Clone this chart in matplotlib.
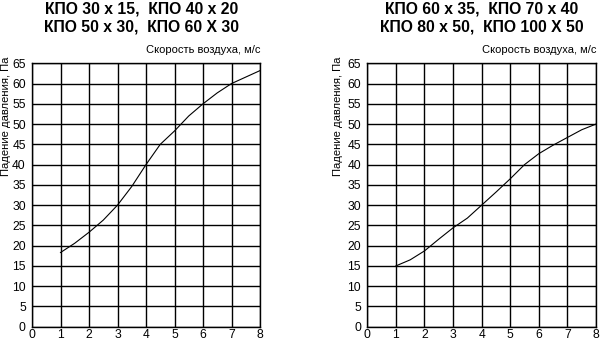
import matplotlib
matplotlib.use("Agg")
import matplotlib.pyplot as plt

plt.rcParams['font.family'] = ['Liberation Sans', 'DejaVu Sans']

speed = [1, 1.5, 2, 2.5, 3, 3.5, 4, 4.5, 5, 5.5, 6, 6.5, 7, 7.5, 8]
drop_left = [18.3, 20.6, 23.3, 26.3, 30, 34.6, 40, 45, 48.3, 52, 55, 57.7, 60, 61.6, 63.2]
drop_right = [15, 16.5, 18.7, 21.6, 24.4, 26.8, 30, 33.2, 36.5, 40, 42.7, 44.8, 46.7, 48.6, 50]

title_left = "КПО 30 х 15,  КПО 40 х 20\nКПО 50 х 30,  КПО 60 Х 30"
title_right = "КПО 60 х 35,  КПО 70 х 40\nКПО 80 х 50,  КПО 100 Х 50"
xlabel = "Скорость воздуха, м/с"
ylabel = "Падение давления, Па"
xticks = list(range(0, 9))
yticks = list(range(0, 66, 5))

W, H = 600, 343
fig = plt.figure(figsize=(6.0, 3.43), dpi=100)

def px(x0, y0, x1, y1):
    return [x0 / W, 1 - y1 / H, (x1 - x0) / W, (y1 - y0) / H]

panels = [
    (px(32, 63.3, 260, 326.7), drop_left, title_left, 142, 6.5),
    (px(367.3, 63.3, 596, 326.7), drop_right, title_right, 482, 338),
]

for rect, ys, title, tx, ylx in panels:
    ax = fig.add_axes(rect)
    ax.plot(speed, ys, color='black', lw=0.8)
    ax.set_xlim(0, 8)
    ax.set_ylim(0, 65)
    ax.set_xticks(xticks)
    ax.set_yticks(yticks)
    ax.grid(True, color='black', lw=1.0)
    ax.tick_params(axis='y', length=0, labelsize=8.7, pad=4.5)
    ax.tick_params(axis='x', length=0, labelsize=8.7, pad=2.0)
    for s in ax.spines.values():
        s.set_color('black')
        s.set_linewidth(1.0)
    ax.text(1.0, 1.03, xlabel, transform=ax.transAxes, ha='right', va='bottom', fontsize=8)
    fig.text(tx / W, 1 - 1 / H, title, ha='center', va='top', fontsize=11.3,
             fontweight='bold', linespacing=1.25)
    fig.text(ylx / W, 1 - 57 / H, ylabel, rotation=90, ha='center', va='top', fontsize=8.1)

fig.savefig("out.png", dpi=100)
